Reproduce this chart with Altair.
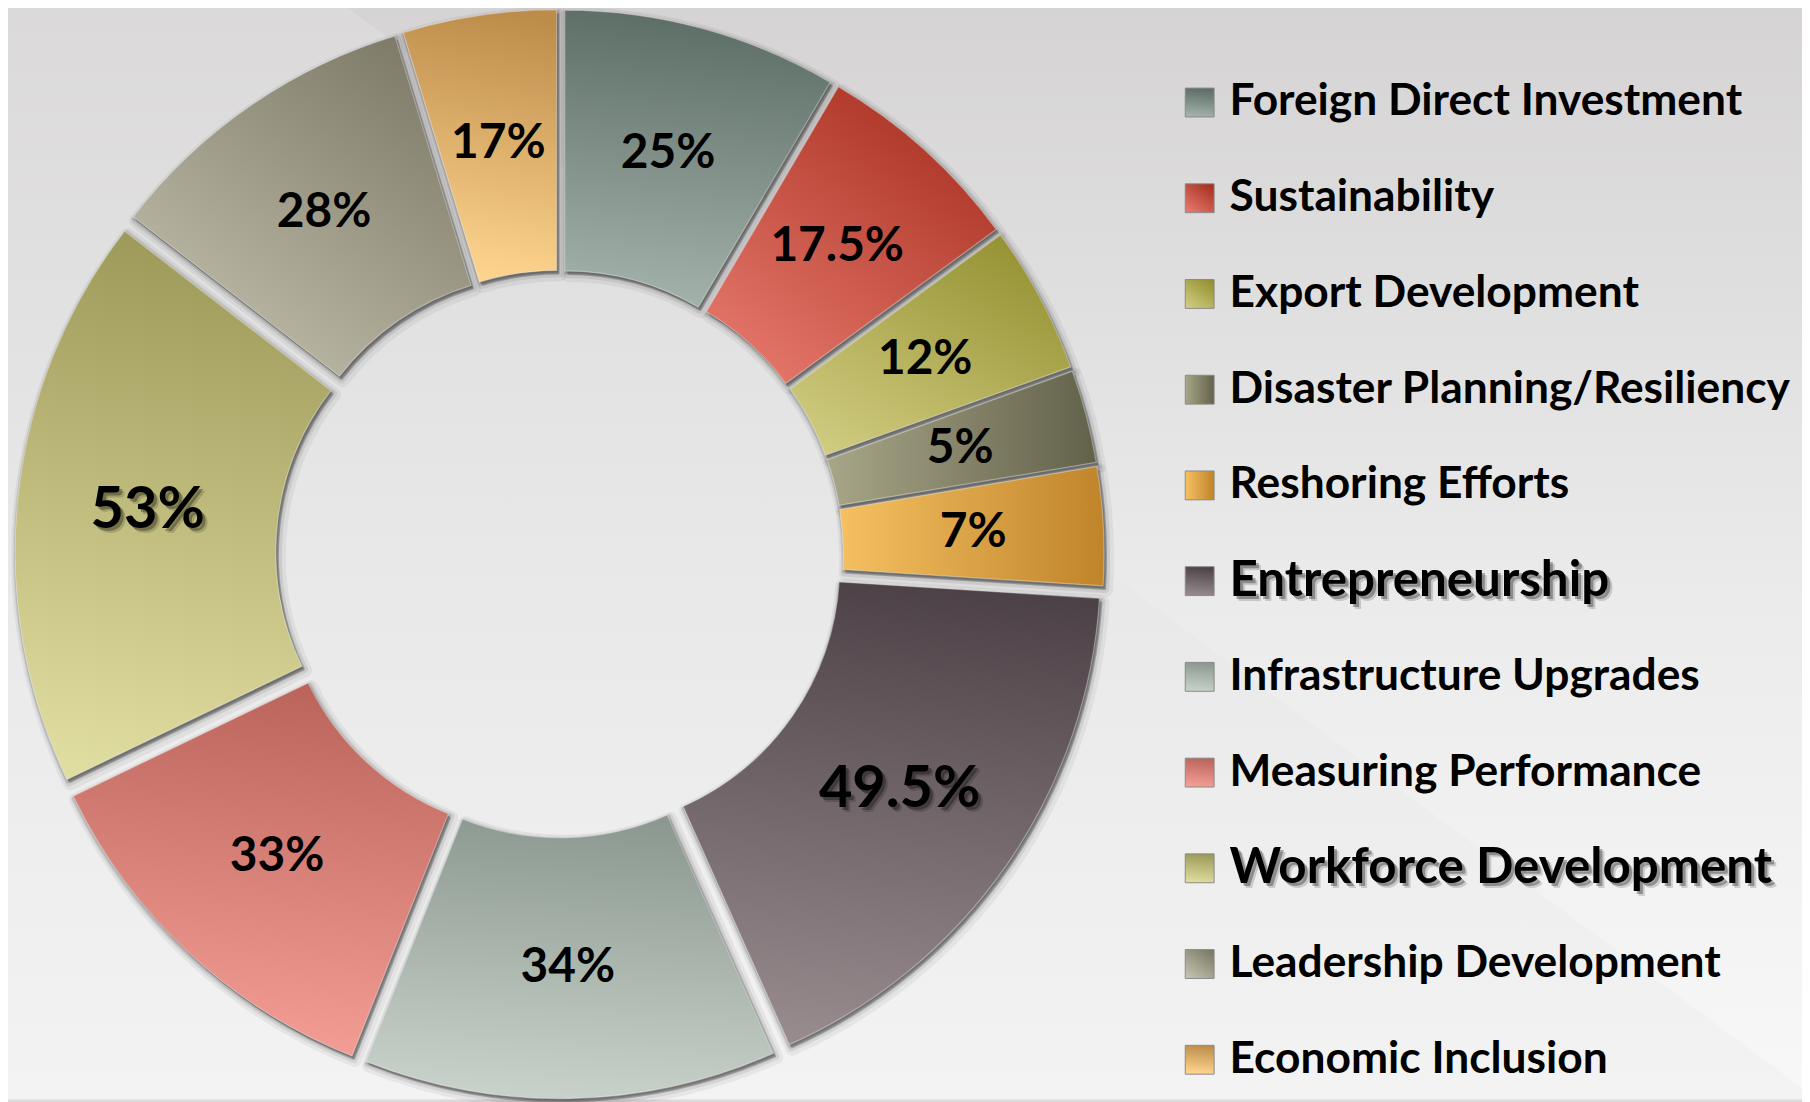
import math
import altair as alt
import pandas as pd

# ---------------- data ----------------
categories = [
    "Foreign Direct Investment",
    "Sustainability",
    "Export Development",
    "Disaster Planning/Resiliency",
    "Reshoring Efforts",
    "Entrepreneurship",
    "Infrastructure Upgrades",
    "Measuring Performance",
    "Workforce Development",
    "Leadership Development",
    "Economic Inclusion",
]
labels = ["25%", "17.5%", "12%", "5%", "7%", "49.5%", "34%", "33%", "53%", "28%", "17%"]
# angular size of each slice as drawn (degrees of the circle)
slice_deg = [30.4, 23.4, 16.4, 10.3, 13.1, 62.4, 45.7, 42.6, 63.4, 35.3, 17.0]

# ---------------- styles ----------------
color_dark = ["#5b6c64", "#a62f1f", "#938f30", "#62614a", "#c0842a", "#4c4146",
              "#8b988f", "#bb645c", "#9c9858", "#7b7966", "#bd8c4a"]
color_light = ["#a3b2aa", "#e6786c", "#d0cc80", "#a8a688", "#f5c062", "#978b8e",
               "#c8d2ca", "#f49e96", "#e0dda0", "#c4c2ae", "#ffd690"]
grad_dir = ["v", "d", "d", "h", "h", "v", "v", "v", "v", "d", "v"]
highlight = ["Entrepreneurship", "Workforce Development"]
big_labels = ["49.5%", "53%"]

W, H = 1802, 1094
CX, CY = 554, 546
R_OUT, R_IN = 527, 265
EXPLODE = 20
R_LABEL = (R_OUT + R_IN) / 2
ROW0, ROW_STEP = 92.5, 96.15
LEG_SQ_X = 1197
LEG_TX_X = 1227
FONT = "Lato"

n = len(categories)
df = pd.DataFrame({"idx": list(range(n)), "category": categories,
                   "label": labels, "share": slice_deg})

hl_list = "[" + ",".join("'" + h + "'" for h in highlight) + "]"
big_list = "[" + ",".join("'" + b + "'" for b in big_labels) + "]"

base = alt.Chart(df).transform_window(
    t1="sum(share)", sort=[alt.SortField("idx", order="ascending")], frame=[None, 0]
).transform_calculate(
    t0="datum.t1 - datum.share",
    mid="(datum.t1 - datum.share / 2) * PI / 180",
    px=f"{CX} + {EXPLODE} * sin(datum.mid)",
    py=f"{CY} - {EXPLODE} * cos(datum.mid)",
    lx=f"datum.px + {R_LABEL} * sin(datum.mid)",
    ly=f"datum.py - {R_LABEL} * cos(datum.mid)",
    ry=f"{ROW0} + {ROW_STEP} * datum.idx",
    hl=f"indexof({hl_list}, datum.category) >= 0",
    big=f"indexof({big_list}, datum.label) >= 0",
)

theta_enc = alt.Theta("t0:Q", scale=alt.Scale(domain=[0, 360], range=[0, 2 * math.pi], nice=False))
theta2_enc = alt.Theta2("t1:Q")


def grad(i):
    d = grad_dir[i]
    if d == "h":
        c = dict(x1=1, y1=0.5, x2=0, y2=0.5)
    elif d == "d":
        c = dict(x1=0.85, y1=0, x2=0.15, y2=1)
    else:
        c = dict(x1=0.55, y1=0, x2=0.45, y2=1)
    return alt.LinearGradient(
        gradient="linear",
        stops=[alt.GradientStop(offset=0, color=color_dark[i]),
               alt.GradientStop(offset=1, color=color_light[i])],
        **c,
    )


def vgrad(stops):
    return alt.LinearGradient(
        gradient="linear",
        stops=[alt.GradientStop(offset=o, color=c) for o, c in stops],
        x1=0, y1=0, x2=0, y2=1,
    )


one = pd.DataFrame({"k": [0]})

# background
bg = alt.Chart(one).mark_rect(
    fill=vgrad([(0, "#dbd9da"), (0.5, "#e8e8e8"), (1, "#f3f3f3")])
).encode(x=alt.value(0), x2=alt.value(W), y=alt.value(0), y2=alt.value(H))

# diagonal background panel (upper-right side of the slanted line)
bg_wedge = alt.Chart(one).mark_arc(
    theta=math.pi / 2, theta2=math.radians(126.6), radius=2000, radius2=0,
    fill=vgrad([(0, "#d5d3d4"), (0.5, "#ebebeb"), (1, "#fafafa")]),
).encode(x=alt.value(334), y=alt.value(-8))

layers = [bg, bg_wedge]

# soft shadows around slices
for dx, dy, sw, op in [(3, 4, 14, 0.05), (2, 3, 8, 0.08), (1, 2, 4, 0.12)]:
    layers.append(
        base.transform_calculate(sx=f"datum.px + {dx}", sy=f"datum.py + {dy}")
        .mark_arc(radius=R_OUT, radius2=R_IN, fill="#000000", fillOpacity=0.15,
                  stroke="#000000", strokeOpacity=op, strokeWidth=sw, strokeJoin="round")
        .encode(x=alt.X("sx:Q", scale=None, axis=None, stack=None),
                y=alt.Y("sy:Q", scale=None, axis=None),
                theta=theta_enc, theta2=theta2_enc)
    )

# slices, one layer per slice for its own gradient
for i in range(n):
    layers.append(
        base.transform_filter(f"datum.idx == {i}")
        .mark_arc(radius=R_OUT, radius2=R_IN, fill=grad(i),
                  stroke="#ffffff", strokeOpacity=0.35, strokeWidth=1.2)
        .encode(x=alt.X("px:Q", scale=None, axis=None, stack=None),
                y=alt.Y("py:Q", scale=None, axis=None),
                theta=theta_enc, theta2=theta2_enc)
    )

# slice labels
layers.append(
    base.transform_filter("!datum.big")
    .mark_text(font=FONT, fontWeight="bold", fontSize=48, color="#000000",
               align="center", baseline="middle")
    .encode(x=alt.X("lx:Q", scale=None, axis=None), y=alt.Y("ly:Q", scale=None, axis=None),
            text="label:N")
)
for dx, dy, op in [(5, 5, 0.15), (3, 3, 0.3)]:
    layers.append(
        base.transform_filter("datum.big")
        .mark_text(font=FONT, fontWeight="bold", fontSize=58, color="#000000", opacity=op,
                   align="center", baseline="middle", dx=dx, dy=dy)
        .encode(x=alt.X("lx:Q", scale=None, axis=None), y=alt.Y("ly:Q", scale=None, axis=None),
                text="label:N")
    )
layers.append(
    base.transform_filter("datum.big")
    .mark_text(font=FONT, fontWeight="bold", fontSize=58, color="#000000",
               align="center", baseline="middle")
    .encode(x=alt.X("lx:Q", scale=None, axis=None), y=alt.Y("ly:Q", scale=None, axis=None),
            text="label:N")
)

# legend swatches
for i in range(n):
    layers.append(
        base.transform_filter(f"datum.idx == {i}")
        .mark_square(size=29 * 29, fill=grad(i), fillOpacity=1, opacity=1,
                     stroke="#8a8a8a", strokeWidth=1)
        .encode(x=alt.value(LEG_SQ_X), y=alt.Y("ry:Q", scale=None, axis=None))
    )

# legend labels
layers.append(
    base.transform_filter("!datum.hl")
    .mark_text(font=FONT, fontWeight="bold", fontSize=44.5, color="#000000",
               align="left", baseline="middle")
    .encode(x=alt.value(LEG_TX_X), y=alt.Y("ry:Q", scale=None, axis=None), text="category:N")
)
for dx, dy, op in [(5, 5, 0.15), (3, 3, 0.3)]:
    layers.append(
        base.transform_filter("datum.hl")
        .mark_text(font=FONT, fontWeight="bold", fontSize=49.5, color="#000000", opacity=op,
                   align="left", baseline="middle", dx=dx, dy=dy)
        .encode(x=alt.value(LEG_TX_X), y=alt.Y("ry:Q", scale=None, axis=None), text="category:N")
    )
layers.append(
    base.transform_filter("datum.hl")
    .mark_text(font=FONT, fontWeight="bold", fontSize=49.5, color="#000000",
               align="left", baseline="middle")
    .encode(x=alt.value(LEG_TX_X), y=alt.Y("ry:Q", scale=None, axis=None), text="category:N")
)

chart = alt.layer(*layers).properties(
    width=W, height=H, padding=0,
    autosize=alt.AutoSizeParams(type="none"),
    background="#dbd9da",
).configure_view(stroke=None)

chart.save("out.html", embed_options={"renderer": "svg", "actions": False})
